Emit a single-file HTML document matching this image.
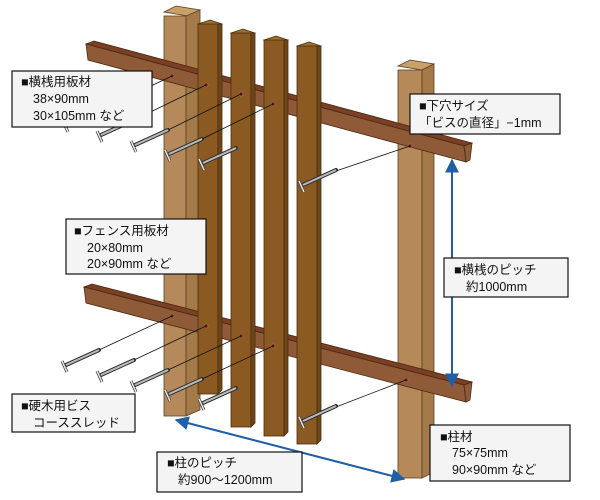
<!DOCTYPE html>
<html><head><meta charset="utf-8"><style>
html,body{margin:0;padding:0;background:#fff}
svg{display:block}
text{font-family:"Liberation Sans","Noto Sans CJK JP",sans-serif;font-size:12.5px;fill:#111}
</style></head><body>
<svg width="600" height="500" viewBox="0 0 600 500" xmlns="http://www.w3.org/2000/svg">
<defs>
<marker id="ah" viewBox="0 0 10 10" refX="9" refY="5" markerWidth="7" markerHeight="7" orient="auto-start-reverse">
<path d="M0,0 L10,5 L0,10 z" fill="#1f5fa8"/></marker>
<g id="screw">
<path d="M1,-1 L34,-16" stroke="#333" stroke-width="4" stroke-linecap="round"/>
<path d="M1,-1 L34,-16" stroke="#bbb" stroke-width="2"/>
<path d="M-3,-5 L2,6" stroke="#444" stroke-width="3"/>
<path d="M-3,-5 L2,6" stroke="#eee" stroke-width="1.4"/>
</g>
</defs>

<!-- right post -->
<polygon points="398,66 410,60 434,64 422,70" fill="#c9a06a" stroke="#5a4020" stroke-width="0.8"/>
<rect x="398" y="70" width="24" height="408" fill="#b5895a" stroke="#5a4020" stroke-width="0.8"/>
<polygon points="422,70 434,64 434,472 422,478" fill="#a47a48" stroke="#5a4020" stroke-width="0.8"/>

<!-- left post -->
<polygon points="164,12 176,6 200,10 188,16" fill="#c9a06a" stroke="#5a4020" stroke-width="0.8"/>
<rect x="164" y="16" width="22" height="400" fill="#b5895a" stroke="#5a4020" stroke-width="0.8"/>
<polygon points="186,16 200,10 200,410 186,416" fill="#a47a48" stroke="#5a4020" stroke-width="0.8"/>

<!-- upper rail -->
<polygon points="86,44 94,41 472,143 464,146" fill="#7a3f24" stroke="#4a2a10" stroke-width="0.8"/>
<polygon points="86,44 464,146 466,162 88,60" fill="#8e5a38" stroke="#4a2a10" stroke-width="0.8"/>
<polygon points="464,146 472,143 470,160 466,162" fill="#8e5a38" stroke="#4a2a10" stroke-width="0.8"/>
<!-- lower rail -->
<polygon points="84,287 92,284 472,382 464,385" fill="#7a3f24" stroke="#4a2a10" stroke-width="0.8"/>
<polygon points="84,287 464,385 466,402 86,303" fill="#8e5a38" stroke="#4a2a10" stroke-width="0.8"/>
<polygon points="464,385 472,382 470,400 466,402" fill="#8e5a38" stroke="#4a2a10" stroke-width="0.8"/>

<!-- boards -->
<g stroke="#4a2e10" stroke-width="0.8">
<polygon points="198,24 210,20 222,24 210,28" fill="#a0702e"/>
<rect x="198" y="24" width="20" height="370" fill="#8b5a22"/>
<polygon points="218,24 222,24 222,390 218,394" fill="#6e4618"/>
<polygon points="231,33 243,29 255,33 243,37" fill="#a0702e"/>
<rect x="231" y="33" width="20" height="394" fill="#8b5a22"/>
<polygon points="251,33 255,33 255,423 251,427" fill="#6e4618"/>
<polygon points="264,40 276,36 288,40 276,44" fill="#a0702e"/>
<rect x="264" y="40" width="20" height="396" fill="#8b5a22"/>
<polygon points="284,40 288,40 288,432 284,436" fill="#6e4618"/>
<polygon points="297,46 309,42 321,46 309,50" fill="#a0702e"/>
<rect x="297" y="46" width="20" height="398" fill="#8b5a22"/>
<polygon points="317,46 321,46 321,440 317,444" fill="#6e4618"/>
</g>

<!-- holes -->
<g fill="#5a1a10" stroke="#c08070" stroke-width="0.6">
<circle cx="172" cy="76" r="2"/><circle cx="206" cy="85" r="2"/><circle cx="241" cy="94" r="2"/><circle cx="273" cy="104" r="2"/><circle cx="410" cy="146" r="2"/>
<circle cx="172" cy="316" r="2"/><circle cx="206" cy="326" r="2"/><circle cx="241" cy="336" r="2"/><circle cx="273" cy="346" r="2"/><circle cx="406" cy="380" r="2"/>
</g>
<!-- guide lines -->
<g stroke="#111" stroke-width="0.8">
<line x1="172" y1="76" x2="100" y2="110"/><line x1="206" y1="85" x2="134" y2="120"/><line x1="241" y1="94" x2="168" y2="130"/><line x1="273" y1="104" x2="202" y2="139"/><line x1="410" y1="146" x2="336" y2="171"/>
<line x1="172" y1="316" x2="99" y2="350"/><line x1="206" y1="326" x2="134" y2="360"/><line x1="241" y1="336" x2="168" y2="370"/><line x1="273" y1="346" x2="202" y2="379"/><line x1="406" y1="380" x2="336" y2="407"/>
</g>
<use href="#screw" x="66" y="126"/><use href="#screw" x="100" y="136"/><use href="#screw" x="134" y="146"/><use href="#screw" x="168" y="155"/><use href="#screw" x="202" y="164"/><use href="#screw" x="302" y="186"/>
<use href="#screw" x="65" y="366"/><use href="#screw" x="100" y="376"/><use href="#screw" x="134" y="386"/><use href="#screw" x="168" y="395"/><use href="#screw" x="202" y="404"/><use href="#screw" x="302" y="422"/>

<!-- arrows -->
<line x1="452" y1="160" x2="452" y2="386" stroke="#1f5fa8" stroke-width="2" marker-start="url(#ah)" marker-end="url(#ah)"/>
<line x1="176" y1="420" x2="404" y2="479" stroke="#1f5fa8" stroke-width="2" marker-start="url(#ah)" marker-end="url(#ah)"/>

<!-- label boxes -->
<g fill="#f4f4f4" stroke="#111" stroke-width="1.2">
<rect x="12" y="71" width="140" height="56"/>
<rect x="66" y="219" width="140" height="55"/>
<rect x="410" y="94" width="150" height="40"/>
<rect x="444" y="258" width="124" height="39"/>
<rect x="12" y="394" width="123" height="38"/>
<rect x="430" y="425" width="140" height="56"/>
<rect x="157" y="452" width="145" height="40"/>
</g>
<text x="21" y="86">■横桟用板材</text><text x="33" y="103">38×90mm</text><text x="33" y="120">30×105mm など</text>
<text x="74" y="235">■フェンス用板材</text><text x="87" y="252">20×80mm</text><text x="87" y="268">20×90mm など</text>
<text x="419" y="110">■下穴サイズ</text><text x="419" y="127">「ビスの直径」−1mm</text>
<text x="454" y="274">■横桟のピッチ</text><text x="466" y="291">約1000mm</text>
<text x="21" y="410">■硬木用ビス</text><text x="33" y="427">コーススレッド</text>
<text x="440" y="441">■柱材</text><text x="452" y="457">75×75mm</text><text x="452" y="474">90×90mm など</text>
<text x="167" y="467">■柱のピッチ</text><text x="178" y="484">約900〜1200mm</text>
</svg>
</body></html>
